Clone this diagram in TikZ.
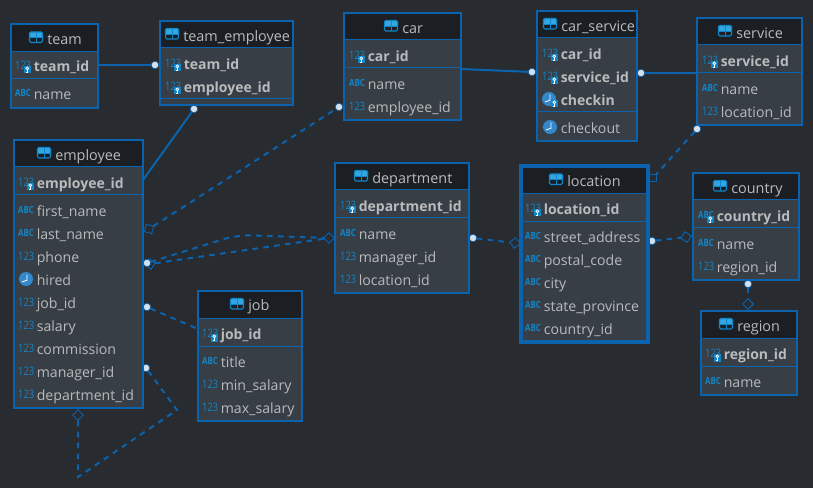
\documentclass[tikz,border=0pt]{standalone}
\usepackage{fontspec}
\setmainfont{Open Sans}
\usetikzlibrary{shapes.geometric}
\definecolor{bg}{HTML}{282C31}
\definecolor{boxf}{HTML}{383E45}
\definecolor{hdr}{HTML}{1B1E22}
\definecolor{edge}{HTML}{0B62AD}
\definecolor{txt}{HTML}{B9BBBD}
\definecolor{ico}{HTML}{0F86C9}
\definecolor{icol}{HTML}{35A6E0}
\definecolor{clk}{HTML}{3388CC}
\definecolor{dotc}{HTML}{D5E0EA}
\newcommand{\tbl}[9][1.6pt]{%
  \fill[boxf] (#3,#4) rectangle (#5,#6);
  \fill[hdr] (#3,#4) rectangle (#5,#7);
  \draw[edge,line width=.75pt] (#3,#7) -- (#5,#7);
  \draw[edge,line width=.75pt] (#3,#8) -- (#5,#8);
  \pgfmathsetmacro\tmpw{(#5-#3)*0.75}%
  \pgfmathsetmacro\tmph{(#6-#4)*0.75}%
  \pgfmathsetmacro\tmpy{(#4+#7)/2-.5}%
  \node[tablebox,line width=#1,minimum width=\tmpw pt,minimum height=\tmph pt] (#2) at ({(#3+#5)/2},{(#4+#6)/2}) {};
  \tblicon{#9}{\tmpy}%
}
\newcommand{\tblicon}[2]{%
  \fill[icol,rounded corners=.8pt] (#1-7,#2-5.5) rectangle (#1+7,#2+.5);
  \fill[hdr] (#1-5.5,#2+.5) rectangle (#1+5.5,#2+4.4);
  \draw[ico,line width=.8pt,rounded corners=1pt] (#1-6.5,#2-5.5) rectangle (#1+6.5,#2+5);
  \draw[ico,line width=.7pt] (#1,#2-5.5) -- (#1,#2+5) (#1-6.5,#2) -- (#1+6.5,#2);
}
\newcommand{\keyi}[2]{%
  \fill[ico] (#1+2.5,#2-.2) rectangle (#1+10,#2+7.5);
  \draw[white,line width=.55pt] (#1+6.3,#2+2.3) circle (1.4);
  \draw[white,line width=.55pt] (#1+6.8,#2+3.7) -- (#1+6.8,#2+6) -- (#1+5,#2+6);
}
\newcommand{\numi}[2]{\node[anchor=west,inner sep=0,xscale=.8,text=ico,font=\fontsize{8.7}{9}\selectfont] at (#1-6,#2-1) {123};}
\newcommand{\abci}[2]{\node[anchor=west,inner sep=0,xscale=.8,text=ico,font=\fontsize{7.4}{9}\bfseries\selectfont] at (#1-6,#2-1) {ABC};}
\newcommand{\clki}[2]{%
  \fill[clk] (#1+2,#2-1) circle (7);
  \draw[white,line width=.6pt] (#1+3,#2-5.5) -- (#1+3,#2+.2) -- (#1-2,#2+2);
}
\newcommand{\fldk}[4]{\csname #3i\endcsname{#1}{#2}\keyi{#1}{#2}\node[fldb,anchor=west] at (#1+12.5,#2) {#4};}
\newcommand{\fld}[4]{\csname #3i\endcsname{#1}{#2}\node[fldn,anchor=west] at (#1+12.5,#2) {#4};}
\tikzset{
  tablebox/.style={draw=edge,rectangle,inner sep=0,outer sep=0,fill=none},
  fldn/.style={inner sep=0,yshift=-1.4pt,text=txt,font=\fontsize{10.6}{12}\selectfont,text height=8pt,text depth=2.5pt},
  fldb/.style={inner sep=0,yshift=-1.4pt,text=txt,font=\fontsize{10.5}{12}\bfseries\selectfont,text height=8pt,text depth=2.5pt},
  ttl/.style={inner sep=0,yshift=-1.4pt,text=txt,font=\fontsize{10.8}{12}\selectfont,anchor=west,text height=8pt,text depth=2.5pt},
  solidc/.style={draw=edge,line width=1.5pt},
  dashc/.style={draw=edge,line width=1.5pt,dash pattern=on 4.2pt off 4pt},
  enddot/.style={circle,fill=dotc,draw=edge,line width=.5pt,minimum size=5.6pt,inner sep=0,outer sep=0},
  endk/.style={diamond,draw=edge,line width=.7pt,fill=none,minimum width=8pt,minimum height=8pt,inner sep=0,outer sep=0},
  ends/.style={rectangle,draw=edge,line width=.8pt,fill=none,minimum size=5.6pt,inner sep=0,outer sep=0},
}
\begin{document}
\begin{tikzpicture}[x=.75pt,y=-.75pt]
\useasboundingbox (0,0) rectangle (813,488);
\fill[bg] (0,0) rectangle (813,488);
\coordinate (cA) at (237,235);
\coordinate (cB) at (177,410);
\coordinate (cC) at (78,477);
\node[endk,rotate=30] (k1) at (149,229) {};
\node[endk,rotate=10] (k2) at (150,264) {};
\node[endk] (k3) at (329,238) {};
\node[endk,rotate=-8] (k4) at (515,243) {};
\node[endk,rotate=10] (k5) at (686,237) {};
\node[endk] (k6) at (748,304) {};
\node[endk] (k7) at (78,415) {};
\node[ends] (s1) at (653,178) {};
\node[enddot] (d1) at (155,65) {};
\node[enddot] (d2) at (194,109) {};
\node[enddot] (d3) at (339,107) {};
\node[enddot] (d4) at (532,72) {};
\node[enddot] (d5) at (641,73) {};
\node[enddot] (d6) at (697,129) {};
\node[enddot] (d7) at (147,263) {};
\node[enddot] (d8) at (147,307) {};
\node[enddot] (d9) at (146,368) {};
\node[enddot] (d10) at (473,238) {};
\node[enddot] (d11) at (652,241) {};
\node[enddot] (d12) at (748,284) {};
\coordinate (a1) at (98,65);
\coordinate (a2) at (143,180);
\coordinate (a3) at (461,69);
\coordinate (a4) at (697,73);
\coordinate (a5) at (198,329);
\draw[solidc] (a1) -- (d1);
\draw[solidc] (a2) -- (d2);
\draw[solidc] (a3) -- (d4);
\draw[solidc] (d5) -- (a4);
\draw[dashc] (k1) -- (d3);
\draw[dashc,rounded corners=10pt] (d7) -- (cA) -- (k3);
\draw[dashc] (k2) -- (k3);
\draw[dashc] (d8) -- (a5);
\draw[dashc] (d9) -- (cB) -- (cC) -- (k7);
\draw[dashc] (d10) -- (k4);
\draw[dashc] (d11) -- (k5);
\draw[dashc] (d12) -- (k6);
\draw[dashc] (d6) -- (s1);
\tbl{team}{11}{24}{98}{108}{52}{79}{36}
\node[ttl] (t1) at (47,39) {team};
\fldk{21}{66}{num}{team\_id} \fld{21}{94}{abc}{name}
\tbl{teamemp}{160}{21}{293}{105}{48}{99}{172}
\node[ttl] (t2) at (183,35.5) {team\_employee};
\fldk{171}{64}{num}{team\_id} \fldk{171}{87}{num}{employee\_id}
\tbl{employee}{14}{140}{143}{408}{167}{195}{44}
\node[ttl] (t3) at (55,154.5) {employee};
\fldk{24}{183}{num}{employee\_id}
\fld{24}{211}{abc}{first\_name}
\fld{24}{234}{abc}{last\_name}
\fld{24}{257}{num}{phone}
\fld{24}{280}{clk}{hired}
\fld{24}{303}{num}{job\_id}
\fld{24}{326}{num}{salary}
\fld{24}{349}{num}{commission}
\fld{24}{372}{num}{manager\_id}
\fld{24}{395}{num}{department\_id}
\tbl{job}{198}{291}{302}{421}{318}{346}{237}
\node[ttl] (t4) at (248,305) {job};
\fldk{208}{334}{num}{job\_id}
\fld{208}{362}{abc}{title}
\fld{208}{385}{num}{min\_salary}
\fld{208}{408}{num}{max\_salary}
\tbl{car}{344}{13}{461}{120}{40}{68}{391}
\node[ttl] (t5) at (402,27.5) {car};
\fldk{355}{56}{num}{car\_id}
\fld{355}{84}{abc}{name}
\fld{355}{107}{num}{employee\_id}
\tbl{carservice}{537}{11}{637}{141}{38}{112}{550}
\node[ttl] (t6) at (561,26) {car\_service};
\fldk{548}{54}{num}{car\_id}
\fldk{548}{77}{num}{service\_id}
\clki{547}{100}\keyi{548}{100}\node[fldb,anchor=west] at (560.5,100) {checkin};
\fld{548}{128}{clk}{checkout}
\tbl{service}{697}{18}{802}{125}{45}{73}{725}
\node[ttl] (t7) at (736,33) {service};
\fldk{708}{61}{num}{service\_id}
\fld{708}{89}{abc}{name}
\fld{708}{112}{num}{location\_id}
\tbl{department}{335}{163}{469}{293}{190}{218}{361}
\node[ttl] (t8) at (372,178) {department};
\fldk{346}{206}{num}{department\_id}
\fld{346}{234}{abc}{name}
\fld{346}{257}{num}{manager\_id}
\fld{346}{280}{num}{location\_id}
\tbl[2.4pt]{location}{521}{166}{648}{342}{194}{222}{556}
\node[ttl] (t9) at (567,181) {location};
\fldk{531}{209}{num}{location\_id}
\fld{531}{237}{abc}{street\_address}
\fld{531}{260}{abc}{postal\_code}
\fld{531}{283}{abc}{city}
\fld{531}{306}{abc}{state\_province}
\fld{531}{329}{abc}{country\_id}
\tbl{country}{693}{173}{799}{280}{200}{228}{720}
\node[ttl] (t10) at (731,188) {country};
\fldk{704}{216}{abc}{country\_id}
\fld{704}{244}{abc}{name}
\fld{704}{267}{num}{region\_id}
\tbl{region}{701}{311}{797}{395}{338}{366}{726}
\node[ttl] (t11) at (737,326) {region};
\fldk{711}{354}{num}{region\_id}
\fld{711}{382}{abc}{name}
\end{tikzpicture}
\end{document}
